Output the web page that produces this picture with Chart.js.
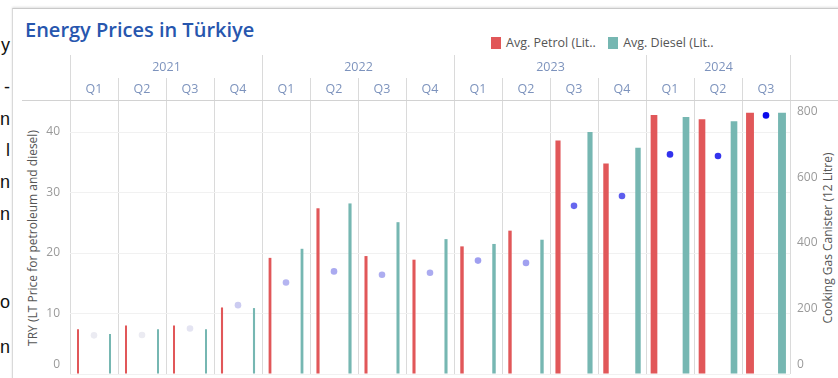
<!DOCTYPE html>
<html>
<head>
<meta charset="utf-8">
<script src="https://cdn.jsdelivr.net/npm/chart.js@4.4.1/dist/chart.umd.min.js"></script>
<style>
  body { margin: 0; background: #fff; }
  #page { position: relative; width: 838px; height: 378px; overflow: hidden; background: #fff; font-family: 'Open Sans', sans-serif; }
  #margin-text { position: absolute; left: 0; top: 0; width: 10px; height: 378px; }
  #margin-text span { position: absolute; right: 0; font: 18px 'Liberation Sans', sans-serif; line-height: 18px; color: #111; }
  #card { position: absolute; left: 12px; top: 8px; right: -4px; bottom: -4px; border-left: 1px solid #d9d9d9; border-top: 1px solid #c9c9c9; box-shadow: 0 -1px 2px rgba(0,0,0,0.12); }
  #title { position: absolute; left: 25px; top: 16px; font-weight: 600; font-size: 20px; line-height: 28px; color: #2756ae; }
  #legend { position: absolute; left: 491px; top: 34px; font-size: 12.5px; line-height: 17px; color: #555; white-space: nowrap; }
  #legend .sw { display: inline-block; width: 10px; height: 12px; vertical-align: -2px; margin-right: 5px; }
  #legend .item { margin-right: 9px; }
  .axis-title { position: absolute; top: 238px; font-size: 12px; line-height: 14px; color: #555; white-space: nowrap; transform: translate(-50%, -50%) rotate(-90deg); }
  canvas { position: absolute; left: 0; top: 0; }
</style>
</head>
<body>
<div id="page">
  <div id="margin-text">
    <span style="top:36px">y</span>
    <span style="top:78px">-</span>
    <span style="top:110px">n</span>
    <span style="top:141px">l</span>
    <span style="top:173px">n</span>
    <span style="top:205px">n</span>
    <span style="top:293px">o</span>
    <span style="top:338px">n</span>
  </div>
  <div id="card"></div>
  <div id="title">Energy Prices in Türkiye</div>
  <div id="legend">
    <span class="item"><span class="sw" style="background:#e15759"></span>Avg. Petrol (Lit..</span>
    <span class="item"><span class="sw" style="background:#76b7b2"></span>Avg. Diesel (Lit..</span>
  </div>
  <div class="axis-title" style="left:33px">TRY (LT Price for petroleum and diesel)</div>
  <div class="axis-title" style="left:828px">Cooking Gas Canister (12 Litre)</div>
  <canvas id="chart" width="838" height="378"></canvas>
</div>
<script>
const years = ['2021', '2022', '2023', '2024'];
const quarterYears = ['2021', '2021', '2021', '2021', '2022', '2022', '2022', '2022',
                      '2023', '2023', '2023', '2023', '2024', '2024', '2024'];
const quarterLabels = ['Q1', 'Q2', 'Q3', 'Q4', 'Q1', 'Q2', 'Q3', 'Q4',
                       'Q1', 'Q2', 'Q3', 'Q4', 'Q1', 'Q2', 'Q3'];

// TRY per litre
const petrol = [7.4, 8.0, 8.0, 11.0, 19.2, 27.4, 19.5, 18.9, 21.1, 23.7, 38.6, 34.8, 42.8, 42.1, 43.2];
const diesel = [6.6, 7.4, 7.4, 10.9, 20.7, 28.2, 25.1, 22.3, 21.5, 22.2, 40.0, 37.4, 42.5, 41.8, 43.2];
// TRY per 12 litre canister
const gasCanister = [118, 119, 139, 210, 279, 313, 303, 309, 346, 339, 513, 543, 670, 665, 789];

const leftTicks = [0, 10, 20, 30, 40];
const rightTicks = [0, 200, 400, 600, 800];

// each quarter gets three slots: petrol | gas | diesel
const slotLabels = [];
quarterLabels.forEach((q, i) => {
  slotLabels.push(quarterYears[i] + ' ' + q + ' Petrol', quarterYears[i] + ' ' + q + ' Gas', quarterYears[i] + ' ' + q + ' Diesel');
});
const spread = (values, offset) => slotLabels.map((_, s) => (s % 3 === offset ? values[Math.floor(s / 3)] : null));

// dot colour goes from pale grey to strong blue with the canister price
function gasColor(v) {
  if (v == null) return 'rgba(0,0,0,0)';
  const t = Math.min(1, Math.max(0, (v - 110) / (790 - 110)));
  const r = Math.round(238 - 228 * t), g = Math.round(238 - 228 * t), b = Math.round(242 - 6 * t);
  return `rgb(${r},${g},${b})`;
}

// bar width is sized by the canister price of the quarter
const sizeByGas = {
  id: 'sizeByGas',
  afterDatasetsUpdate(chart) {
    chart.data.datasets.forEach((ds, di) => {
      if (ds.type !== 'bar') return;
      chart.getDatasetMeta(di).data.forEach((bar, s) => {
        bar.width = Math.max(2, gasCanister[Math.floor(s / 3)] / 100);
      });
    });
  }
};

// keep the bottom "0" labels inside the view
const insetZeroLabel = {
  id: 'insetZeroLabel',
  beforeDraw(chart) {
    ['y', 'y2'].forEach(id => {
      chart.scales[id].getLabelItems().forEach(item => {
        if (item.label === '0' && !item.inset) {
          item.options.translation[1] -= 9;
          item.inset = true;
        }
      });
    });
  }
};

// year / quarter header rows above the plot
const quarterHeader = {
  id: 'quarterHeader',
  afterDraw(chart) {
    const { ctx, chartArea } = chart;
    const x = chart.scales.x;
    const slot = x.getPixelForValue(1) - x.getPixelForValue(0);
    const edge = k => Math.round(x.getPixelForValue(3 * k) - slot / 2) + 0.5;
    const top = chartArea.top;

    ctx.save();
    ctx.lineWidth = 1;
    ctx.strokeStyle = '#d2d2d2';
    ctx.beginPath();
    ctx.moveTo(22, top + 0.5);
    ctx.lineTo(chart.width, top + 0.5);
    ctx.stroke();

    ctx.strokeStyle = '#dadada';
    for (let k = 0; k <= quarterLabels.length; k++) {
      const yearEdge = k === 0 || k === quarterLabels.length || quarterLabels[k] === 'Q1';
      ctx.beginPath();
      ctx.moveTo(edge(k), yearEdge ? top - 45 : top - 22);
      ctx.lineTo(edge(k), top);
      ctx.stroke();
    }

    ctx.font = "12.5px 'Open Sans', sans-serif";
    ctx.fillStyle = '#7d93bd';
    ctx.textAlign = 'center';
    ctx.textBaseline = 'middle';
    quarterLabels.forEach((q, k) => {
      ctx.fillText(q, x.getPixelForValue(3 * k + 1), top - 11);
    });
    years.forEach(yr => {
      const first = quarterYears.indexOf(yr);
      const last = quarterYears.lastIndexOf(yr);
      ctx.fillText(yr, (edge(first) + edge(last + 1)) / 2, top - 33);
    });
    ctx.restore();
  }
};

const fitSide = s => {
  s.width = 48;
  s.paddingTop = 0;
  s.paddingBottom = 0;
};

Chart.defaults.font.family = "'Open Sans', sans-serif";

new Chart(document.getElementById('chart'), {
  type: 'bar',
  data: {
    labels: slotLabels,
    datasets: [
      {
        type: 'bar',
        label: 'Avg. Petrol (Litre)',
        data: spread(petrol, 0),
        backgroundColor: '#e15759',
        grouped: false,
        yAxisID: 'y'
      },
      {
        type: 'bar',
        label: 'Avg. Diesel (Litre)',
        data: spread(diesel, 2),
        backgroundColor: '#76b7b2',
        grouped: false,
        yAxisID: 'y'
      },
      {
        type: 'line',
        label: 'Cooking Gas Canister (12 Litre)',
        data: spread(gasCanister, 1),
        showLine: false,
        yAxisID: 'y2',
        pointRadius: 3.3,
        pointBorderWidth: 0,
        pointBackgroundColor: c => gasColor(c.raw)
      }
    ]
  },
  options: {
    responsive: false,
    animation: false,
    layout: { padding: { left: 22, right: 0, top: 100, bottom: 1 } },
    plugins: { legend: { display: false }, tooltip: { enabled: false } },
    scales: {
      x: {
        type: 'category',
        offset: true,
        ticks: { display: false },
        grid: {
          offset: true,
          drawTicks: false,
          color: c => ((c.index ?? 0) % 3 === 0 ? '#dadada' : 'rgba(0,0,0,0)')
        },
        border: { display: false },
        afterFit: s => {
          s.height = 0;
          s.paddingLeft = 0;
          s.paddingRight = 0;
        }
      },
      y: {
        position: 'left',
        min: 0,
        max: 45.3,
        afterBuildTicks: s => { s.ticks = leftTicks.map(v => ({ value: v })); },
        ticks: { padding: 10, color: '#9a9a9a', font: { size: 12 } },
        grid: { color: '#f1f1f1', drawTicks: false },
        border: { display: false },
        afterFit: fitSide
      },
      y2: {
        position: 'right',
        min: 0,
        max: 836,
        afterBuildTicks: s => { s.ticks = rightTicks.map(v => ({ value: v })); },
        ticks: { padding: 7, color: '#9a9a9a', font: { size: 12 } },
        grid: { display: false, drawTicks: false },
        border: { display: false },
        afterFit: fitSide
      }
    }
  },
  plugins: [sizeByGas, insetZeroLabel, quarterHeader]
});
</script>
</body>
</html>
